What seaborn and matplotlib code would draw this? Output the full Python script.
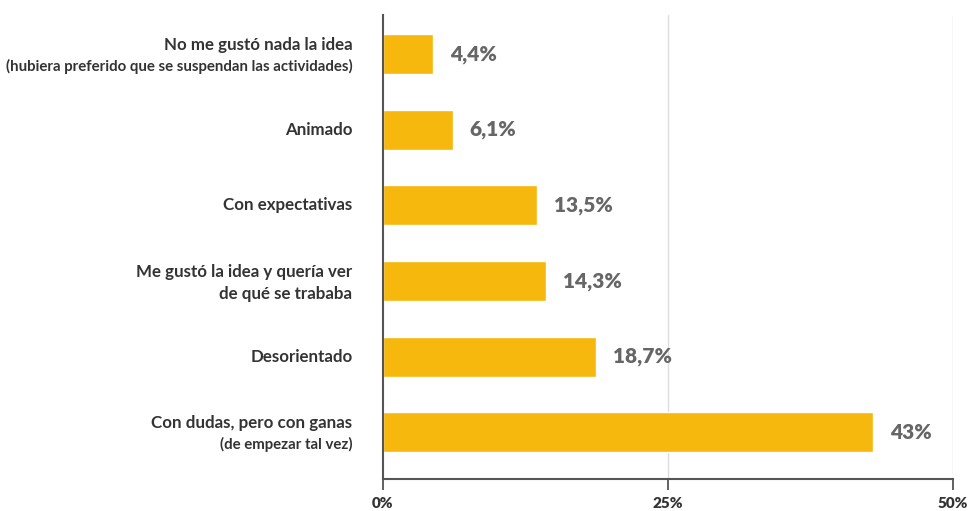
import matplotlib
matplotlib.use("Agg")
import matplotlib.pyplot as plt
import matplotlib.transforms as mtransforms
import seaborn as sns
import pandas as pd

# datos
categorias = [
    "No me gustó nada la idea",
    "Animado",
    "Con expectativas",
    "Me gustó la idea y quería ver",
    "Desorientado",
    "Con dudas, pero con ganas",
]
subtitulos = [
    "(hubiera preferido que se suspendan las actividades)",
    "",
    "",
    "de qué se trababa",
    "",
    "(de empezar tal vez)",
]
sub_grande = [False, False, False, True, False, False]
valores = [4.4, 6.1, 13.5, 14.3, 18.7, 43]
etiquetas = ["4,4%", "6,1%", "13,5%", "14,3%", "18,7%", "43%"]
ticks_x = [0, 25, 50]
ticks_txt = ["0%", "25%", "50%"]

amarillo = "#F6B80D"
oscuro = "#333333"
gris = "#666666"

sns.set_style("white")
plt.rcParams["font.family"] = ["Lato", "DejaVu Sans"]

df = pd.DataFrame({"cat": categorias, "val": valores})

fig = plt.figure(figsize=(9.74, 5.11), dpi=100)
ax = fig.add_axes([383 / 974, 32 / 511, 570 / 974, 464 / 511])

sns.barplot(data=df, x="val", y="cat", orient="h", color=amarillo,
            saturation=1, width=0.53, ax=ax)

ax.set_xlim(0, 50)
ax.set_ylim(5.62, -0.52)
ax.set_xticks(ticks_x)
ax.set_xticklabels(ticks_txt, fontsize=11, fontweight="heavy", color=oscuro)
ax.tick_params(axis="x", bottom=True, length=8, width=1.3, color="#555555",
               pad=5, direction="out")
ax.set_yticks([])
ax.set_xlabel("")
ax.set_ylabel("")

for x in ticks_x[1:]:
    ax.axvline(x, color="#dddddd", lw=1, zorder=0)

for s in ["top", "right"]:
    ax.spines[s].set_visible(False)
for s in ["left", "bottom"]:
    ax.spines[s].set_visible(True)
    ax.spines[s].set_color("#555555")
    ax.spines[s].set_linewidth(1.5)
    ax.spines[s].set_zorder(5)

# etiquetas de valor
for i, (v, t) in enumerate(zip(valores, etiquetas)):
    ax.annotate(t, xy=(v, i), xytext=(12, 0), textcoords="offset points",
                ha="left", va="center", fontsize=15, fontweight="heavy", color=gris)

# etiquetas de categorías (dos líneas, tamaños distintos)
trans = mtransforms.blended_transform_factory(ax.transAxes, ax.transData)
for i, (c, s, g) in enumerate(zip(categorias, subtitulos, sub_grande)):
    if s:
        ax.annotate(c, xy=(0, i), xycoords=trans, xytext=(-22, 6.5),
                    textcoords="offset points", ha="right", va="center",
                    fontsize=12.2, fontweight="bold", color=oscuro)
        ax.annotate(s, xy=(0, i), xycoords=trans, xytext=(-22, -9),
                    textcoords="offset points", ha="right", va="center",
                    fontsize=12.2 if g else 10.8, fontweight="bold", color=oscuro)
    else:
        ax.annotate(c, xy=(0, i), xycoords=trans, xytext=(-22, 0),
                    textcoords="offset points", ha="right", va="center",
                    fontsize=12.2, fontweight="bold", color=oscuro)

fig.savefig("out.png", dpi=100)
